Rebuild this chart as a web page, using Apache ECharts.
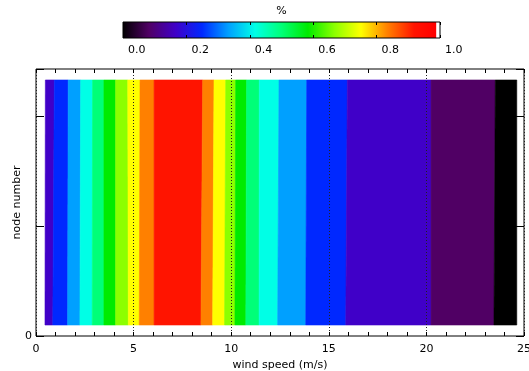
<!DOCTYPE html>
<html>
<head>
<meta charset="utf-8">
<script src="https://cdn.jsdelivr.net/npm/echarts@6/dist/echarts.min.js"></script>
<style>
  html, body { margin: 0; padding: 0; background: #fff; }
  #chart { width: 529px; height: 371px; }
</style>
</head>
<body>
<div id="chart"></div>
<script>
// Contour band edges in wind speed (m/s), read along the lowest and highest node
const windEdgesBottom = [0.46, 0.86, 1.62, 2.25, 2.88, 3.48, 4.08, 4.73, 5.29, 6.05, 8.45,
                         9.05, 9.66, 10.19, 10.75, 11.43, 12.38, 13.82, 15.87, 20.24, 23.46, 24.63];
const windEdgesTop    = [0.48, 0.94, 1.65, 2.29, 2.90, 3.48, 4.08, 4.70, 5.33, 6.05, 8.54,
                         9.12, 9.72, 10.23, 10.79, 11.44, 12.45, 13.87, 15.95, 20.24, 23.53, 24.63];
// Contour level (fraction) filling each band between consecutive edges
const bandPercent = [0.167, 0.25, 0.333, 0.417, 0.5, 0.583, 0.667, 0.75, 0.833, 0.917,
                     0.833, 0.75, 0.667, 0.583, 0.5, 0.417, 0.333, 0.25, 0.167, 0.083, 0];
// Node extent covered by the contour field
const nodeRange = [1, 23.3];
// Axis settings
const windTicks = { min: 0, max: 25, interval: 5 };
const nodeTicks = { min: 0, max: 24.3, interval: 10 };
const colorbarTicks = { min: 0, max: 1, interval: 0.2 };

// Rainbow + white colour table
const cmapPos = [0, 0.083, 0.167, 0.25, 0.333, 0.417, 0.5, 0.583, 0.667, 0.75, 0.833, 0.917, 0.985, 0.988, 1];
const cmapHex = ['#000000', '#500064', '#4000c8', '#0028ff', '#00a0ff', '#00ffe6', '#00ff78',
                 '#00eb00', '#8cff00', '#ffff00', '#ff8000', '#ff1400', '#ff0000', '#ffffff', '#ffffff'];

function hexToRgb(h) {
  return [parseInt(h.slice(1, 3), 16), parseInt(h.slice(3, 5), 16), parseInt(h.slice(5, 7), 16)];
}
function colorAt(v) {
  if (v <= cmapPos[0]) return cmapHex[0];
  for (let i = 1; i < cmapPos.length; i++) {
    if (v <= cmapPos[i] + 1e-9) {
      const t = (v - cmapPos[i - 1]) / (cmapPos[i] - cmapPos[i - 1]);
      const a = hexToRgb(cmapHex[i - 1]), b = hexToRgb(cmapHex[i]);
      const c = a.map((x, k) => Math.round(x + (b[k] - x) * Math.min(1, Math.max(0, t))));
      return 'rgb(' + c.join(',') + ')';
    }
  }
  return cmapHex[cmapHex.length - 1];
}

const bandData = bandPercent.map((v, i) => [
  windEdgesBottom[i], windEdgesBottom[i + 1], windEdgesTop[i], windEdgesTop[i + 1], v
]);

const font = 'DejaVu Sans';
const txt = { color: '#000', fontFamily: font, fontSize: 11 };
const noLine = { show: false, onZero: false };
const tickStyle = { color: '#000', width: 1 };

const chart = echarts.init(document.getElementById('chart'), null, { renderer: 'canvas' });

chart.setOption({
  animation: false,
  backgroundColor: '#fff',
  grid: [
    { left: 36, right: 5, top: 69, bottom: 35, show: true, borderColor: '#000', borderWidth: 1,
      backgroundColor: 'transparent', containLabel: false, outerBoundsMode: 'none' },
    { left: 123, width: 317, top: 22, height: 16, show: false,
      containLabel: false, outerBoundsMode: 'none' }
  ],
  xAxis: [
    { gridIndex: 0, type: 'value', position: 'bottom', z: 10,
      min: windTicks.min, max: windTicks.max, interval: windTicks.interval,
      name: 'wind speed (m/s)', nameLocation: 'middle', nameGap: 20,
      nameTextStyle: txt,
      axisLine: noLine,
      axisTick: { show: true, inside: true, length: 4, lineStyle: tickStyle },
      minorTick: { show: true, splitNumber: 5, length: 4, lineStyle: tickStyle },
      axisLabel: Object.assign({ margin: 8 }, txt),
      splitLine: { show: true, lineStyle: { type: [1, 2], color: '#222', width: 1 } } },
    { gridIndex: 0, type: 'value', position: 'top', z: 10,
      min: windTicks.min, max: windTicks.max, interval: windTicks.interval,
      axisLine: noLine,
      axisTick: { show: true, inside: true, length: 4, lineStyle: tickStyle },
      minorTick: { show: true, splitNumber: 5, length: 4, lineStyle: tickStyle },
      axisLabel: { show: false }, splitLine: { show: false } },
    { gridIndex: 1, type: 'value', position: 'bottom', z: 10,
      min: colorbarTicks.min, max: colorbarTicks.max, interval: colorbarTicks.interval,
      axisLine: noLine,
      axisTick: { show: true, inside: true, length: 3, lineStyle: tickStyle },
      axisLabel: Object.assign({ margin: 7, align: 'left', padding: [0, 0, 0, 5],
        formatter: v => v.toFixed(1) }, txt),
      splitLine: { show: false } },
    { gridIndex: 1, type: 'value', position: 'top', z: 10,
      min: colorbarTicks.min, max: colorbarTicks.max, interval: colorbarTicks.interval,
      name: '%', nameLocation: 'middle', nameGap: 5, nameTextStyle: txt,
      axisLine: noLine,
      axisTick: { show: true, inside: true, length: 3, lineStyle: tickStyle },
      axisLabel: { show: false }, splitLine: { show: false } }
  ],
  yAxis: [
    { gridIndex: 0, type: 'value', position: 'left', z: 10,
      min: nodeTicks.min, max: nodeTicks.max, interval: nodeTicks.interval,
      name: 'node number', nameLocation: 'middle', nameGap: 13, nameMoveOverlap: false,
      nameTextStyle: txt,
      axisLine: noLine,
      axisTick: { show: true, inside: true, length: 8, lineStyle: tickStyle },
      axisLabel: Object.assign({ margin: 4, formatter: v => (v === 0 ? '0' : '') }, txt),
      splitLine: { show: false } },
    { gridIndex: 0, type: 'value', position: 'right', z: 10,
      min: nodeTicks.min, max: nodeTicks.max, interval: nodeTicks.interval,
      axisLine: noLine,
      axisTick: { show: true, inside: true, length: 8, lineStyle: tickStyle },
      axisLabel: { show: false }, splitLine: { show: false } },
    { gridIndex: 1, type: 'value', min: 0, max: 1, show: false }
  ],
  series: [
    {
      type: 'custom',
      name: 'bands',
      xAxisIndex: 0, yAxisIndex: 0,
      data: bandData,
      renderItem: function (params, api) {
        const b0 = api.coord([api.value(0), nodeRange[0]]);
        const b1 = api.coord([api.value(1), nodeRange[0]]);
        const t1 = api.coord([api.value(3), nodeRange[1]]);
        const t0 = api.coord([api.value(2), nodeRange[1]]);
        const c = colorAt(api.value(4));
        return {
          type: 'polygon',
          shape: { points: [b0, b1, t1, t0] },
          style: { fill: c, stroke: c, lineWidth: 0.6 }
        };
      },
      z: 2
    },
    {
      type: 'custom',
      name: 'colorbar',
      xAxisIndex: 2, yAxisIndex: 2,
      data: [[colorbarTicks.min, colorbarTicks.max]],
      renderItem: function (params, api) {
        const p0 = api.coord([api.value(0), 0]);
        const p1 = api.coord([api.value(1), 1]);
        const stops = cmapPos.map((p, i) => ({ offset: p, color: cmapHex[i] }));
        return {
          type: 'rect',
          shape: { x: p0[0], y: p1[1], width: p1[0] - p0[0], height: p0[1] - p1[1] },
          style: {
            fill: new echarts.graphic.LinearGradient(0, 0, 1, 0, stops),
            stroke: '#000', lineWidth: 1
          }
        };
      },
      z: 2
    }
  ]
});
</script>
</body>
</html>
